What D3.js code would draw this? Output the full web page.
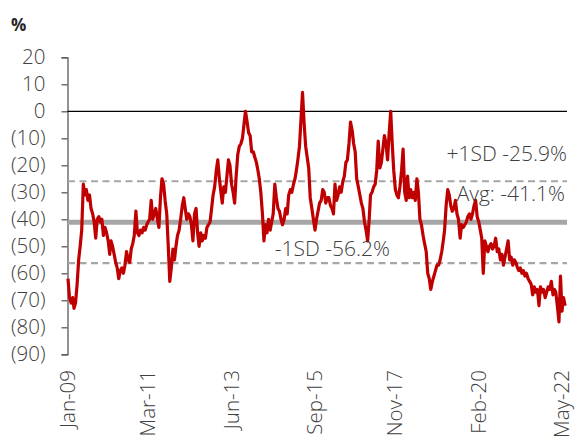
<!DOCTYPE html>
<html>
<head>
<meta charset="utf-8">
<script src="https://cdn.jsdelivr.net/npm/d3@7"></script>
<style>
  html, body { margin: 0; padding: 0; background: #fff; }
  svg { display: block; font-family: "Open Sans", "Segoe UI", sans-serif; }
</style>
</head>
<body>
<div id="chart"></div>
<script>
// ---- Data (semi-monthly observations, starting Jan 2009) ----
const startYear = 2009;
const values = [
  -62, -69, -71, -69, -73, -71, -64, -55, -50, -44,
  -27, -31, -29, -33, -31, -36, -38, -41, -47, -40,
  -39, -41, -40, -46, -43, -45, -48, -53, -48, -50,
  -53, -56, -58, -62, -59, -58, -60, -57, -52, -55,
  -56, -51, -49, -46, -37, -45, -46, -44, -45, -43,
  -44, -42, -41, -40, -33, -40, -38, -36, -40, -43,
  -32, -25, -27, -33, -38, -50, -63, -58, -51, -55,
  -50, -46, -44, -40, -35, -32, -36, -40, -38, -39,
  -42, -48, -38, -36, -45, -50, -45, -48, -46, -47,
  -43, -42, -41, -36, -31, -28, -22, -18, -25, -30,
  -34, -28, -30, -24, -18, -20, -27, -30, -34, -24,
  -16, -13, -12, -10, -5, 0, -4, -8, -9, -15,
  -15, -17, -19, -22, -25, -30, -38, -48, -42, -45,
  -40, -44, -41, -38, -27, -32, -36, -37, -40, -42,
  -40, -36, -38, -31, -29, -30, -27, -25, -22, -18,
  -13, -3, 7, -4, -13, -17, -21, -32, -36, -40,
  -44, -40, -37, -34, -33, -29, -30, -34, -32, -32,
  -35, -36, -38, -27, -33, -31, -28, -30, -26, -24,
  -19, -18, -12, -4, -7, -12, -15, -25, -28, -31,
  -34, -36, -41, -44, -48, -40, -31, -30, -28, -27,
  -22, -11, -21, -19, -14, -9, -12, -18, -8, 0,
  -12, -22, -29, -31, -32, -28, -22, -14, -30, -33,
  -24, -32, -29, -32, -30, -33, -25, -30, -40, -42,
  -46, -49, -52, -60, -62, -66, -63, -61, -59, -57,
  -57, -55, -52, -48, -44, -35, -29, -31, -35, -37,
  -36, -33, -38, -40, -47, -42, -43, -42, -41, -39,
  -38, -40, -38, -35, -33, -39, -41, -44, -47, -60,
  -48, -50, -52, -50, -49, -51, -50, -47, -52, -51,
  -55, -53, -57, -54, -51, -48, -55, -54, -57, -55,
  -56, -58, -59, -58, -60, -59, -61, -60, -62, -63,
  -64, -68, -65, -67, -66, -72, -65, -67, -66, -69,
  -67, -65, -66, -63, -68, -66, -67, -72, -78, -61,
  -74, -69, -72
];
const dates = values.map((v, i) => new Date(startYear, Math.floor(i / 2), i % 2 ? 16 : 1));

const avgValue = -41.1;
const plusSD = -25.9;
const minusSD = -56.2;
const refLabels = ["+1SD -25.9%", "Avg: -41.1%", "-1SD -56.2%"];

const xTickDates = ["2009-01", "2011-03", "2013-06", "2015-09", "2017-11", "2020-02", "2022-05"];
const xTickLabels = ["Jan-09", "Mar-11", "Jun-13", "Sep-15", "Nov-17", "Feb-20", "May-22"];
const yTicks = [20, 10, 0, -10, -20, -30, -40, -50, -60, -70, -80, -90];
const yTickLabels = ["20", "10", "0", "(10)", "(20)", "(30)", "(40)", "(50)", "(60)", "(70)", "(80)", "(90)"];
const unitLabel = "%";

// ---- Layout ----
const W = 575, H = 439;
const svg = d3.select("#chart").append("svg").attr("width", W).attr("height", H);

const parseM = d3.timeParse("%Y-%m");
const x = d3.scaleTime()
  .domain([new Date(2009, 0, 1), new Date(2022, 4, 1)])
  .range([68, 562]);
const y = d3.scaleLinear().domain([-90, 20]).range([354.3, 57.3]);
const xEnd = 567;

const textColor = "#404040";
const fs = 20.5;
const fsNote = 21;
const fw = 300;

// unit label
svg.append("text").attr("x", 11).attr("y", 31)
  .attr("font-size", 17).attr("font-weight", 700).attr("fill", "#262626")
  .text(unitLabel);

// Y axis
const yAxis = d3.axisLeft(y)
  .tickValues(yTicks)
  .tickSize(6)
  .tickPadding(16)
  .tickFormat(d => yTickLabels[yTicks.indexOf(d)]);
const gy = svg.append("g").attr("transform", "translate(67.5,0)").call(yAxis);
gy.select(".domain").attr("stroke", "#595959").attr("stroke-width", 1.3);
gy.selectAll(".tick line").attr("stroke", "#595959").attr("stroke-width", 1.3);
gy.selectAll(".tick text").attr("fill", textColor).attr("font-size", fs)
  .attr("font-weight", fw)
  .attr("font-family", "'Open Sans', sans-serif");

// X axis labels (rotated)
const gx = svg.append("g");
xTickDates.forEach((d, i) => {
  const px = x(parseM(d));
  gx.append("text")
    .attr("transform", `translate(${px + 7},370) rotate(-90)`)
    .attr("text-anchor", "end")
    .attr("font-size", fs)
    .attr("font-weight", fw)
    .attr("fill", textColor)
    .text(xTickLabels[i]);
});

// zero line
svg.append("line")
  .attr("x1", 67.5).attr("x2", xEnd)
  .attr("y1", y(0)).attr("y2", y(0))
  .attr("stroke", "#000").attr("stroke-width", 1.2);

// reference lines
[plusSD, minusSD].forEach(v => {
  svg.append("line")
    .attr("x1", 68).attr("x2", xEnd)
    .attr("y1", y(v)).attr("y2", y(v))
    .attr("stroke", "#a6a6a6").attr("stroke-width", 2.2)
    .attr("stroke-dasharray", "7,4.5");
});
svg.append("line")
  .attr("x1", 68).attr("x2", xEnd)
  .attr("y1", y(avgValue)).attr("y2", y(avgValue))
  .attr("stroke", "#a6a6a6").attr("stroke-width", 5);

// data line
const line = d3.line()
  .x((d, i) => x(dates[i]))
  .y(d => y(d));
svg.append("path")
  .datum(values)
  .attr("d", line)
  .attr("fill", "none")
  .attr("stroke", "#c00000")
  .attr("stroke-width", 3.2)
  .attr("stroke-linejoin", "round");

// annotations
svg.append("text").attr("x", 567).attr("y", 161).attr("text-anchor", "end")
  .attr("font-size", fsNote).attr("font-weight", fw).attr("fill", textColor).text(refLabels[0]);
svg.append("text").attr("x", 565).attr("y", 201).attr("text-anchor", "end")
  .attr("font-size", fsNote).attr("font-weight", fw).attr("fill", textColor).text(refLabels[1]);
svg.append("text").attr("x", 390).attr("y", 256).attr("text-anchor", "end")
  .attr("font-size", fsNote).attr("font-weight", fw).attr("fill", textColor).text(refLabels[2]);
</script>
</body>
</html>
